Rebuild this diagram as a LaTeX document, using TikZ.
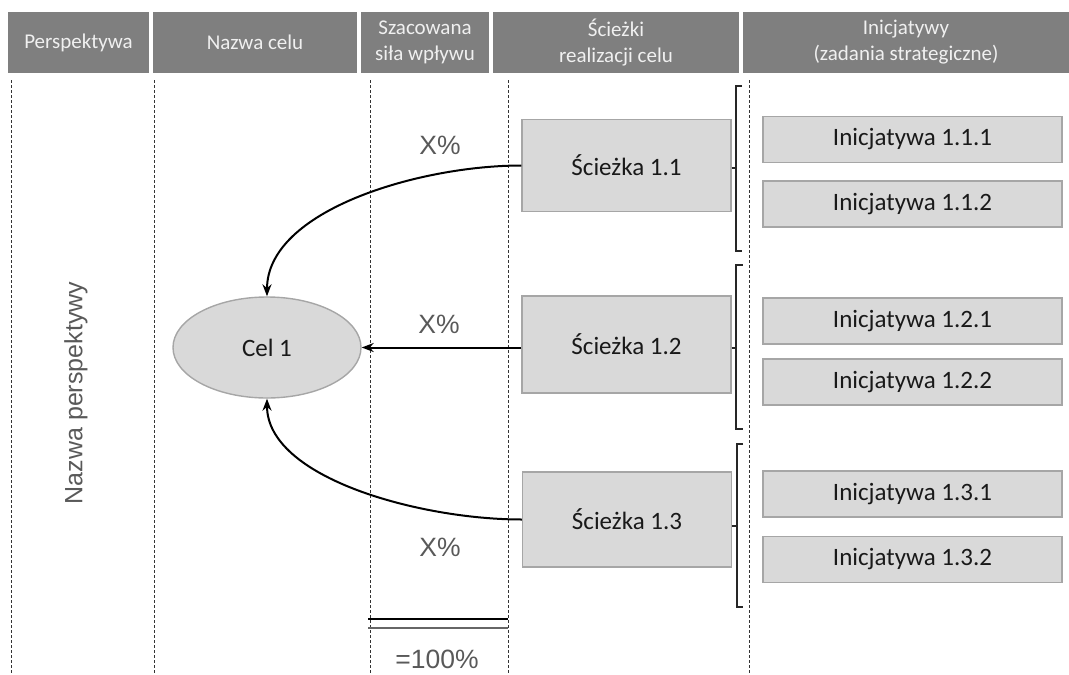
\documentclass[tikz,border=0pt]{standalone}
\usepackage{fontspec}
\setmainfont{Carlito}
\newfontfamily\arialf{Liberation Sans}
\usetikzlibrary{arrows.meta,shapes.geometric}
\definecolor{headbg}{HTML}{7F7F7F}
\definecolor{boxbg}{HTML}{D9D9D9}
\definecolor{boxline}{HTML}{A6A6A6}
\definecolor{labtext}{HTML}{595959}
\tikzset{
  head/.style={fill=headbg, text=white!94!black, inner sep=0pt, align=center,
    font=\fontsize{21}{26}\selectfont},
  pathbox/.style={fill=boxbg, draw=boxline, line width=1.4pt, inner sep=0pt,
    minimum width=209pt, minimum height=92pt, text=black!90, font=\fontsize{25}{28}\selectfont},
  initbox/.style={fill=boxbg, draw=boxline, line width=1.4pt, inner sep=0pt,
    minimum width=299pt, minimum height=46pt, text=black!90, font=\fontsize{25}{28}\selectfont},
  sep/.style={dashed, dash pattern=on 3pt off 2pt, line width=1pt, draw=black!80},
  pct/.style={text=labtext, font=\arialf\fontsize{26.5}{30}\selectfont},
  brace/.style={line width=2pt, draw=black!85},
  link/.style={line width=2pt, draw=black, -{Stealth[length=12pt,width=9pt]}}
}
\begin{document}
\begin{tikzpicture}[x=1pt, y=-1pt]
\useasboundingbox (0,0) rectangle (1069,675);

% column headers
\node[head, minimum width=141pt, minimum height=61pt] (h1) at (78.5,42.5) {Perspektywa};
\node[head, minimum width=204pt, minimum height=61pt] (h2) at (255,42.5) {Nazwa celu};
\node[head, minimum width=128pt, minimum height=61pt] (h3) at (425,42.5) {Szacowana\\siła wpływu};
\node[head, minimum width=246pt, minimum height=61pt] (h4) at (616,42.5) {Ścieżki\\realizacji celu};
\node[head, minimum width=326pt, minimum height=61pt] (h5) at (906,42.5) {Inicjatywy\\(zadania strategiczne)};

% dashed column separators
\foreach \xx in {11,154,370,508,749}
  \draw[sep] (\xx,80) -- (\xx,675);

% perspective name
\node[rotate=90, text=labtext, font=\arialf\fontsize{25}{30}\selectfont] (persp) at (76,393) {Nazwa perspektywy};

% goal
\node[ellipse, fill=boxbg, draw=boxline, line width=1.4pt, minimum width=188pt, minimum height=101pt,
  inner sep=0pt, text=black!90, font=\fontsize{25}{28}\selectfont] (goal) at (267,347.5) {Cel 1};

% paths
\node[pathbox] (s1) at (626.5,165.5) {Ścieżka 1.1};
\node[pathbox, minimum height=97pt] (s2) at (626.5,344.5) {Ścieżka 1.2};
\node[pathbox, minimum height=95pt] (s3) at (627,519.5) {Ścieżka 1.3};

% initiatives
\node[initbox] (i11) at (912.5,139.5) {Inicjatywa 1.1.1};
\node[initbox] (i12) at (912.5,204) {Inicjatywa 1.1.2};
\node[initbox] (i21) at (912.5,321) {Inicjatywa 1.2.1};
\node[initbox] (i22) at (912.5,382) {Inicjatywa 1.2.2};
\node[initbox] (i31) at (912.5,494) {Inicjatywa 1.3.1};
\node[initbox] (i32) at (912.5,559.5) {Inicjatywa 1.3.2};

% brackets grouping initiatives
\coordinate (b1) at (735.5,168);
\coordinate (b2) at (736,348);
\coordinate (b3) at (736.5,526);
\draw[brace] (742,86) -- (735.5,86) -- (735.5,251) -- (742,251);
\draw[brace] (s1.east |- b1) -- (b1);
\draw[brace] (742.5,265) -- (736,265) -- (736,429) -- (742.5,429);
\draw[brace] (s2.east |- b2) -- (b2);
\draw[brace] (743,444) -- (736.5,444) -- (736.5,607) -- (743,607);
\draw[brace] (s3.east |- b3) -- (b3);

% impact links
\draw[link] (s1.west) .. controls (420,165.5) and (267,210) .. (goal.north);
\draw[link] (s2.west |- goal.east) -- (goal.east);
\draw[link] (s3.west) .. controls (420,519.5) and (267,478) .. (goal.south);

% impact shares
\node[pct] (p1) at (440,145) {X\%};
\node[pct] (p2) at (439,324) {X\%};
\node[pct] (p3) at (440,547) {X\%};

% sum line
\coordinate (t1) at (368,619);
\coordinate (t2) at (508,619);
\coordinate (u1) at (368,628);
\coordinate (u2) at (508,628);
\draw[line width=1.5pt, black] (t1) -- (t2);
\draw[line width=1.5pt, black!60] (u1) -- (u2);
\node[pct] (total) at (437,659) {=100\%};
\end{tikzpicture}
\end{document}
